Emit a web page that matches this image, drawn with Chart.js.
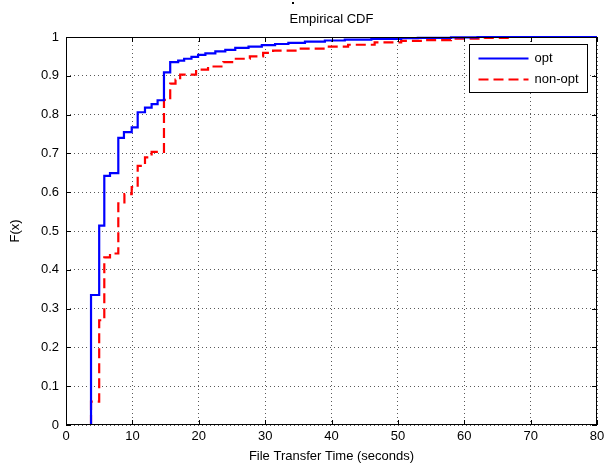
<!DOCTYPE html>
<html>
<head>
<meta charset="utf-8">
<script src="https://cdn.jsdelivr.net/npm/chart.js@4/dist/chart.umd.min.js"></script>
<style>
  html, body { margin: 0; padding: 0; background: #fff; }
  #wrap { width: 611px; height: 466px; }
</style>
</head>
<body>
<div id="wrap"><canvas id="cdf" width="611" height="466"></canvas></div>
<script>
// step positions (seconds) and CDF values
const optTimes = [3.77, 5.0, 5.77, 6.63, 7.88, 8.73, 9.9, 10.8, 11.9, 12.9, 13.8, 14.76, 15.7, 16.9, 17.8, 18.9, 19.9,
  21, 22.5, 24, 25.5, 27.5, 29.5, 31.5, 33.5, 36, 39, 42, 46, 50.5, 53, 58, 62];
const optCdf = [0.335, 0.514, 0.642, 0.649, 0.740, 0.755, 0.767, 0.806, 0.818, 0.827, 0.837, 0.909, 0.935, 0.939, 0.944, 0.949, 0.954,
  0.958, 0.963, 0.967, 0.972, 0.975, 0.979, 0.982, 0.985, 0.988, 0.991, 0.993, 0.995, 0.997, 0.998, 0.999, 1.0];

const nonOptTimes = [3.77, 5.0, 5.77, 6.63, 7.88, 8.8, 9.9, 10.8, 11.9, 12.9, 14.76, 15.7, 16.5, 17.2, 19.6, 21.4, 23.7,
  25.2, 27.7, 29.7, 31.2, 35, 39, 42.5, 46.5, 50.5, 54, 58, 63, 67];
const nonOptCdf = [0.06, 0.27, 0.432, 0.442, 0.571, 0.595, 0.613, 0.668, 0.690, 0.704, 0.838, 0.880, 0.890, 0.903, 0.916, 0.924, 0.935,
  0.944, 0.950, 0.959, 0.965, 0.970, 0.975, 0.980, 0.986, 0.990, 0.992, 0.996, 0.998, 1.0];

const xTicks = [0, 10, 20, 30, 40, 50, 60, 70, 80];
const yTicks = [0, 0.1, 0.2, 0.3, 0.4, 0.5, 0.6, 0.7, 0.8, 0.9, 1];
const seriesNames = ["opt", "non-opt"];

const FONT = "'Liberation Sans', Arial, sans-serif";

// turn step list into points, starting from zero and running to the axis end
function toSteps(times, vals) {
  const pts = [{ x: times[0], y: 0 }];
  times.forEach((t, i) => pts.push({ x: t, y: vals[i] }));
  pts.push({ x: xTicks[xTicks.length - 1], y: vals[vals.length - 1] });
  return pts;
}

// frame, inward ticks, title, axis labels and legend, MATLAB style
const matlabDecor = {
  id: "matlabDecor",
  afterDraw(chart) {
    const ctx = chart.ctx;
    const a = chart.chartArea;
    const xs = chart.scales.x, ys = chart.scales.y;
    ctx.save();
    ctx.strokeStyle = "#000";
    ctx.lineWidth = 1;
    ctx.setLineDash([]);
    ctx.strokeRect(a.left + 0.5, a.top + 0.5, a.right - a.left - 1, a.bottom - a.top - 1);
    ctx.beginPath();
    xTicks.forEach(v => {
      const px = Math.round(xs.getPixelForValue(v)) + 0.5;
      ctx.moveTo(px, a.bottom); ctx.lineTo(px, a.bottom - 5);
      ctx.moveTo(px, a.top); ctx.lineTo(px, a.top + 5);
    });
    yTicks.forEach(v => {
      const py = Math.round(ys.getPixelForValue(v)) + 0.5;
      ctx.moveTo(a.left, py); ctx.lineTo(a.left + 5, py);
      ctx.moveTo(a.right, py); ctx.lineTo(a.right - 5, py);
    });
    ctx.stroke();

    // stray mark above the title, as in the source image
    ctx.fillStyle = "#000";
    ctx.fillRect(292, 2, 2, 2);

    ctx.font = "13px " + FONT;
    ctx.textAlign = "center";
    ctx.textBaseline = "middle";
    ctx.fillText("Empirical CDF", (a.left + a.right) / 2, 19);
    ctx.fillText("File Transfer Time (seconds)", (a.left + a.right) / 2, 456);
    ctx.save();
    ctx.translate(15, (a.top + a.bottom) / 2);
    ctx.rotate(-Math.PI / 2);
    ctx.fillText("F(x)", 0, 0);
    ctx.restore();

    // legend box in the top right corner
    const bx = 469.5, by = 44.5, bw = 118, bh = 48;
    ctx.fillStyle = "#fff";
    ctx.fillRect(bx, by, bw, bh);
    ctx.strokeStyle = "#000";
    ctx.strokeRect(bx, by, bw, bh);
    chart.data.datasets.forEach((ds, i) => {
      const ly = by + 14 + i * 21;
      ctx.strokeStyle = ds.borderColor;
      ctx.lineWidth = ds.borderWidth;
      ctx.setLineDash(ds.borderDash || []);
      ctx.beginPath();
      ctx.moveTo(bx + 9, ly); ctx.lineTo(bx + 59, ly);
      ctx.stroke();
      ctx.fillStyle = "#000";
      ctx.textAlign = "left";
      ctx.fillText(ds.label, bx + 65, ly);
    });
    ctx.restore();
  }
};

new Chart(document.getElementById("cdf"), {
  type: "line",
  data: {
    datasets: [
      {
        label: seriesNames[0],
        data: toSteps(optTimes, optCdf),
        borderColor: "#0000ff",
        borderWidth: 2.2,
        stepped: true,
        pointRadius: 0,
        clip: 4
      },
      {
        label: seriesNames[1],
        data: toSteps(nonOptTimes, nonOptCdf),
        borderColor: "#ff0000",
        borderWidth: 2.2,
        borderDash: [10, 5],
        stepped: true,
        pointRadius: 0,
        clip: 4
      }
    ]
  },
  options: {
    responsive: false,
    animation: false,
    events: [],
    layout: { padding: { left: 0, right: 14, top: 37, bottom: 0 } },
    plugins: { legend: { display: false }, tooltip: { enabled: false } },
    scales: {
      x: {
        type: "linear",
        min: 0, max: 80,
        afterFit: s => { s.height = 41; },
        afterBuildTicks: s => { s.ticks = xTicks.map(v => ({ value: v })); },
        ticks: { color: "#000", padding: 4, maxRotation: 0, font: { family: FONT, size: 13 } },
        grid: { color: "rgba(0,0,0,0.65)", lineWidth: 1, drawTicks: false },
        border: { display: false, dash: [1, 3] }
      },
      y: {
        type: "linear",
        min: 0, max: 1,
        afterFit: s => { s.width = 66; },
        afterBuildTicks: s => { s.ticks = yTicks.map(v => ({ value: v })); },
        ticks: {
          color: "#000", padding: 7, font: { family: FONT, size: 13 },
          callback: v => (v === 0 || v === 1) ? String(v) : v.toFixed(1)
        },
        grid: { color: "rgba(0,0,0,0.65)", lineWidth: 1, drawTicks: false },
        border: { display: false, dash: [1, 3] }
      }
    }
  },
  plugins: [matlabDecor]
});
</script>
</body>
</html>
